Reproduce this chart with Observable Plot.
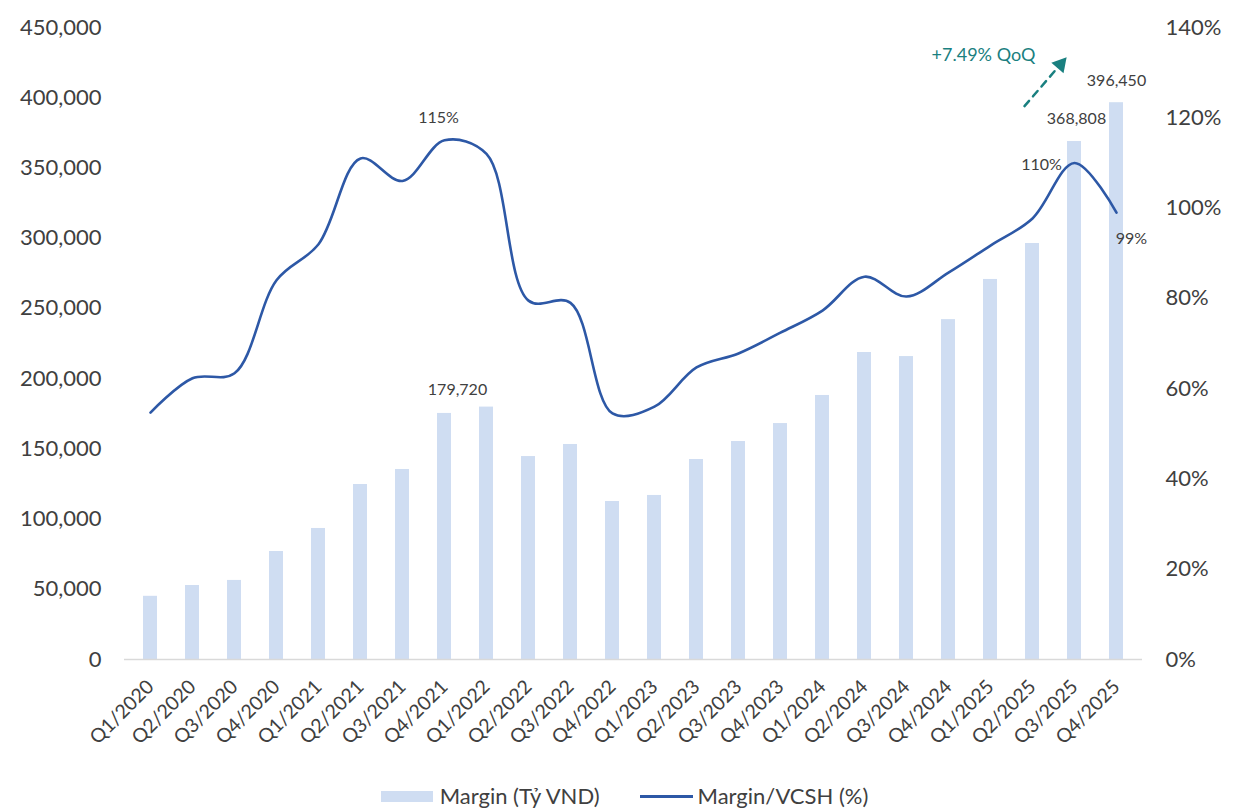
<!DOCTYPE html>
<html>
<head>
<meta charset="utf-8">
<script src="https://cdn.jsdelivr.net/npm/d3@7"></script>
<script src="https://cdn.jsdelivr.net/npm/@observablehq/plot@0.6"></script>
<style>
  html, body { margin: 0; padding: 0; background: #fff; }
  body { font-family: Lato, "Open Sans", sans-serif; color: #404040; }
  #legend { display: flex; justify-content: center; gap: 40px; font-size: 22px; line-height: 26px; color: #404040; margin-top: 8px; padding-left: 13px; }
  .item { display: flex; align-items: center; }
</style>
</head>
<body>
<div id="chart"></div>
<div id="legend">
  <div class="item"><span style="display:inline-block;width:52px;height:11px;background:#cfddf2;margin-right:7px"></span><span>Margin (Tỷ VND)</span></div>
  <div class="item"><span style="display:inline-block;width:53px;height:3px;background:#2d58a6;margin-right:5px"></span><span>Margin/VCSH (%)</span></div>
</div>
<script>
const quarters = ["Q1/2020","Q2/2020","Q3/2020","Q4/2020","Q1/2021","Q2/2021","Q3/2021","Q4/2021",
  "Q1/2022","Q2/2022","Q3/2022","Q4/2022","Q1/2023","Q2/2023","Q3/2023","Q4/2023",
  "Q1/2024","Q2/2024","Q3/2024","Q4/2024","Q1/2025","Q2/2025","Q3/2025","Q4/2025"];
const margin = [45000, 52700, 56300, 76900, 93300, 124600, 135300, 175200,
  179720, 144500, 153100, 112500, 116800, 142400, 155200, 168000,
  188000, 218600, 215700, 242000, 270600, 296200, 368808, 396450];
const marginVCSH = [54.7, 62.3, 63.4, 84, 92, 111, 106, 115,
  112, 79.5, 79, 54.5, 56, 64.7, 67.8, 72.4,
  77.3, 84.8, 80.4, 85.7, 91.7, 97.7, 110, 99];
const leftTicks = [0, 50000, 100000, 150000, 200000, 250000, 300000, 350000, 400000, 450000];
const rightTicks = [0, 20, 40, 60, 80, 100, 120, 140];
const barLabelQuarters = ["Q1/2022", "Q3/2025", "Q4/2025"];
const lineLabelQuarters = ["Q4/2021", "Q3/2025", "Q4/2025"];
const annotationText = "+7.49% QoQ";
const arrowFrom = {q: "Q2/2025", v: 394000};
const arrowTo = {q: "Q3/2025", v: 428700};

const yMax = 450000, pMax = 140;
const toY = p => p * yMax / pMax;
const fmt = d3.format(",");

const bars = quarters.map((q, i) => ({q, v: margin[i]}));
const line = quarters.map((q, i) => ({q, p: marginVCSH[i], y: toY(marginVCSH[i])}));
const barLab = q => bars.filter(d => d.q === q);
const lineLab = q => line.filter(d => d.q === q);

const labelStyle = {fontSize: 16, fill: "#404040"};
const teal = "#1a8080";

const plot = Plot.plot({
  width: 1236,
  height: 775,
  marginLeft: 124,
  marginRight: 94,
  marginTop: 27,
  marginBottom: 116,
  style: {fontFamily: "Lato, 'Open Sans', sans-serif", fontSize: "22px", color: "#404040", background: "#fff"},
  x: {domain: quarters, paddingInner: 0.66, paddingOuter: 0.33, label: null},
  y: {domain: [0, yMax], label: null},
  marks: [
    Plot.barY(bars, {x: "q", y: "v", fill: "#cfddf2"}),
    Plot.ruleY([0], {stroke: "#d9d9d9", strokeWidth: 1.5}),
    Plot.line(line, {x: "q", y: "y", stroke: "#2d58a6", strokeWidth: 2.6, curve: "catmull-rom"}),
    Plot.axisY({ticks: leftTicks, tickSize: 0, tickPadding: 23, tickFormat: fmt, fontSize: 22, label: null}),
    Plot.axisY({anchor: "right", ticks: rightTicks.map(toY), tickSize: 0, tickPadding: 23, tickFormat: d => Math.round(d * pMax / yMax) + "%", fontSize: 22, label: null}),
    Plot.axisX({tickSize: 0, tickRotate: -45, tickPadding: 24, fontSize: 19.5, label: null}),
    // bar value labels
    Plot.text(barLab(barLabelQuarters[0]), {x: "q", y: "v", text: d => fmt(d.v), dx: -29, dy: -17, ...labelStyle}),
    Plot.text(barLab(barLabelQuarters[1]), {x: "q", y: "v", text: d => fmt(d.v), dx: 2, dy: -23, ...labelStyle}),
    Plot.text(barLab(barLabelQuarters[2]), {x: "q", y: "v", text: d => fmt(d.v), dx: 0, dy: -22, ...labelStyle}),
    // line value labels
    Plot.text(lineLab(lineLabelQuarters[0]), {x: "q", y: "y", text: d => d.p + "%", dx: -6, dy: -22, ...labelStyle}),
    Plot.text(lineLab(lineLabelQuarters[1]), {x: "q", y: "y", text: d => d.p + "%", dx: -33, dy: 2, ...labelStyle}),
    Plot.text(lineLab(lineLabelQuarters[2]), {x: "q", y: "y", text: d => d.p + "%", dx: 15, dy: 26, ...labelStyle}),
    // annotation
    Plot.arrow([{}], {x1: () => arrowFrom.q, y1: () => arrowFrom.v, x2: () => arrowTo.q, y2: () => arrowTo.v, dx: -8, stroke: teal, strokeWidth: 2.5, strokeDasharray: "7,6", headLength: 0, insetEnd: 10}),
    Plot.dot([arrowTo], {x: "q", y: "v", dx: -14, dy: 7, symbol: "triangle", r: 6, fill: teal, rotate: 41}),
    Plot.text([arrowFrom], {x: "q", y: () => arrowTo.v, text: () => annotationText, dx: -49, dy: -2, fontSize: 18, fill: teal})
  ]
});
document.getElementById("chart").appendChild(plot);
</script>
</body>
</html>
